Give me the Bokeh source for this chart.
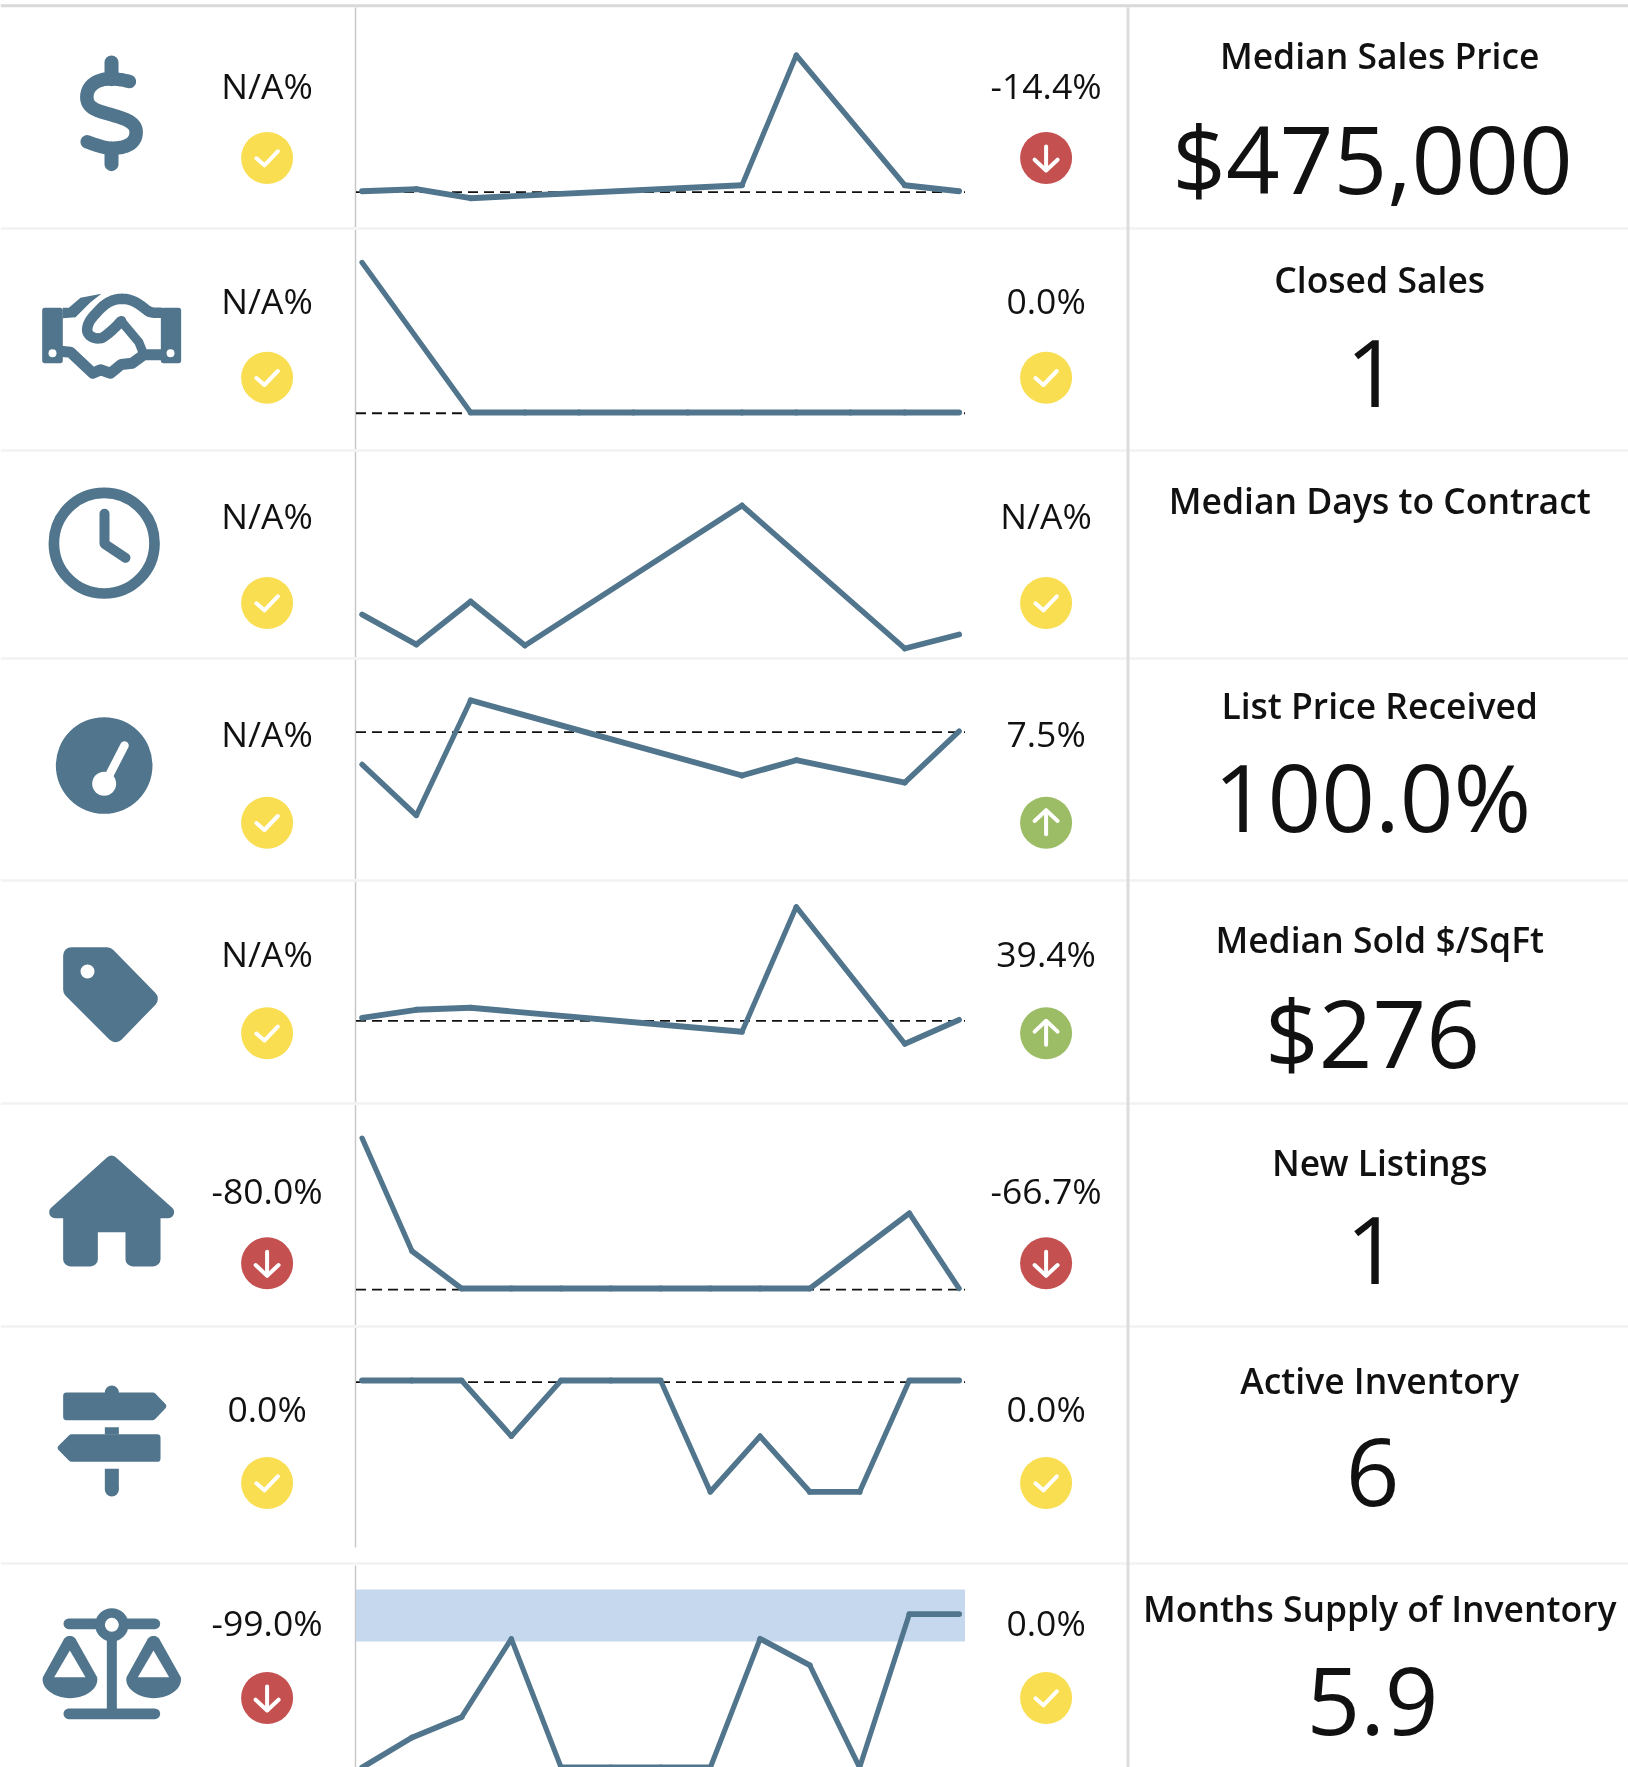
from bokeh.plotting import figure
from bokeh.models import Range1d, ColumnDataSource
from bokeh.core.properties import value
from bokeh.embed import file_html
from bokeh.resources import INLINE
import math

# ---------- data ----------
titles = ["Median Sales Price", "Closed Sales", "Median Days to Contract", "List Price Received",
          "Median Sold $/SqFt", "New Listings", "Active Inventory", "Months Supply of Inventory"]
current = ["$475,000", "1", "", "100.0%", "$276", "1", "6", "5.9"]
left_pct = ["N/A%", "N/A%", "N/A%", "N/A%", "N/A%", "-80.0%", "0.0%", "-99.0%"]
right_pct = ["-14.4%", "0.0%", "N/A%", "7.5%", "39.4%", "-66.7%", "0.0%", "0.0%"]
left_state = ["flat", "flat", "flat", "flat", "flat", "down", "flat", "down"]
right_state = ["down", "flat", "flat", "up", "up", "down", "flat", "flat"]

price_m = [0, 1, 2, 7, 8, 10, 11]
price_v = [475, 485, 440, 505, 1155, 505, 475]          # $ thousands
closed_m = [0, 2, 3, 4, 5, 6, 7, 8, 9, 10, 11]
closed_v = [2, 1, 1, 1, 1, 1, 1, 1, 1, 1, 1]
days_m = [0, 1, 2, 3, 7, 10, 11]
days_v = [33, 18, 39.5, 17.5, 87.5, 16, 23]
lpr_m = [0, 1, 2, 7, 8, 10, 11]
lpr_v = [93.0, 82.3, 106.5, 90.7, 93.9, 89.2, 100.0]
sqft_m = [0, 1, 2, 7, 8, 10, 11]
sqft_v = [278, 286, 288, 264, 389, 252, 276]
new_m = [0, 1, 2, 3, 4, 5, 6, 7, 8, 9, 11, 12]
new_v = [5, 2, 1, 1, 1, 1, 1, 1, 1, 1, 3, 1]
active_m = list(range(13))
active_v = [6, 6, 6, 5, 6, 6, 6, 4, 5, 4, 4, 6, 6]
supply_m = list(range(13))
supply_v = [0, 1.15, 1.94, 4.95, 0, 0, 0, 0, 4.95, 3.93, 0, 5.9, 5.9]
supply_band = (4.85, 6.85)

series_m = [price_m, closed_m, days_m, lpr_m, sqft_m, new_m, active_m, supply_m]
series_v = [price_v, closed_v, days_v, lpr_v, sqft_v, new_v, active_v, supply_v]
n_periods = [12, 12, 12, 12, 12, 13, 13, 13]
dashed_at = [470, 0.995, None, 99.8, 275, 0.97, 5.97, None]

# ---------- layout (pixels) ----------
W, H = 1628, 1767
BLUE = "#50758c"
STATE_COL = {"flat": "#f9de52", "down": "#c45050", "up": "#9cbd65"}
SEP_Y = [228, 450, 658, 880, 1103, 1326, 1563]
VLEFT = [(7, 226.5), (229.5, 448.5), (451.5, 656.5), (659.5, 878.5), (881.5, 1101.5),
         (1104.5, 1324.5), (1327.5, 1547), (1565, 1767)]
TITLE_Y = [68.3, 291.7, 513.3, 718.3, 951.7, 1175, 1393.3, 1621]
VALUE_Y = [193.5, 409, 0, 831.7, 1067, 1285.7, 1507.5, 1736.5]
PCT_Y = [97.8, 312.8, 527.7, 745.7, 965.7, 1202.8, 1420.7, 1634.7]
CIRC_Y = [157.5, 377.2, 602.5, 822.2, 1032.8, 1262.8, 1482.5, 1697.5]
LX, RX, CR = 266.6, 1045.6, 26
TITLE_X, VALUE_X = 1379.2, 1372
SPARK_L, SPARK_R = 355.5, 964.5
FIRST_X, LAST_X = 361.6, 958.6
SMALL, BIG = 35.5, 94
BASE_SHIFT = 0.38   # the svg text sits this many em below the requested alphabetic line
# pixel anchor of each sparkline's y scale: (value, pixel, pixels per unit)
Y_SCALE = [(475, 190.7, 0.2), (1, 412, 150), (0, 680, 2), (100, 730.7, 4.76),
           (276, 1019.3, 1), (1, 1288, 37.6), (6, 1380, 55.7), (0, 1767, 26)]

p = figure(width=W, height=H, x_range=Range1d(0, W), y_range=Range1d(H, 0),
           output_backend="svg", toolbar_location=None, min_border=0,
           x_axis_location=None, y_axis_location=None, outline_line_color=None,
           background_fill_color="white", border_fill_color="white",
           styles={"position": "fixed", "left": "0px", "top": "0px"})
p.grid.visible = False

# ---------- rules ----------
p.line([0, W], [5.3, 5.3], line_color="#d9d9d9", line_width=3)
for y in SEP_Y:
    p.line([0, W], [y, y], line_color="#f2f2f2", line_width=2.6)
for a, b in VLEFT:
    p.line([355, 355], [a, b], line_color="#c8c8c8", line_width=1.5)
p.line([1127.5, 1127.5], [6.7, H], line_color="#dcdcdc", line_width=3)

# ---------- sparklines ----------
WA, WB = 5.0, 5.9
for i, (ms, vs) in enumerate(zip(series_m, series_v)):
    step = (LAST_X - FIRST_X) / (n_periods[i] - 1)
    v0, y0, s = Y_SCALE[i]
    xn, yn = f"mx{i}", f"vy{i}"
    p.extra_x_ranges[xn] = Range1d((0 - FIRST_X) / step, (W - FIRST_X) / step)
    p.extra_y_ranges[yn] = Range1d(v0 - (H - y0) / s, v0 + y0 / s)
    if i == 7:
        p.quad(left=SPARK_L, right=SPARK_R, bottom=supply_band[0], top=supply_band[1],
               fill_color="#c5d8ee", line_color=None, y_range_name=yn)
    if dashed_at[i] is not None:
        p.line([SPARK_L, SPARK_R], [dashed_at[i]] * 2, line_color="#111111", line_width=1.8,
               line_dash="10 6", y_range_name=yn)
    xs, ys, ws = [], [], []
    for a in range(len(ms) - 1):
        dx = (ms[a + 1] - ms[a]) * step
        dy = (vs[a + 1] - vs[a]) * s
        L = math.hypot(dx, dy)
        xs.append(ms[a:a + 2]); ys.append(vs[a:a + 2])
        ws.append(math.hypot(WA * dy, WB * dx) / L)
    src = ColumnDataSource(dict(xs=xs, ys=ys, w=ws))
    p.multi_line("xs", "ys", source=src, line_width="w", line_color=BLUE, line_cap="round",
                 line_join="round", x_range_name=xn, y_range_name=yn)

# ---------- status badges ----------
def badge(cx, cy, state):
    p.circle([cx], [cy], radius=CR, fill_color=STATE_COL[state], line_color=None)
    kw = dict(line_color="white", line_cap="round", line_join="round")
    if state == "flat":
        p.line([cx - 10.7, cx - 2.7, cx + 10.7], [cy + 0.3, cy + 7.3, cy - 6.7], line_width=4, **kw)
    else:
        sg = 1 if state == "down" else -1
        p.line([cx, cx], [cy - sg * 11.5, cy + sg * 12], line_width=4, **kw)
        p.line([cx - 11.5, cx, cx + 11.5], [cy + sg * 1.7, cy + sg * 12.5, cy + sg * 1.7], line_width=4, **kw)

for i in range(8):
    badge(LX, CIRC_Y[i], left_state[i])
    badge(RX, CIRC_Y[i], right_state[i])

# ---------- texts ----------
FONT = value("Open Sans")
small_y = [y - BASE_SHIFT * SMALL for y in PCT_Y]
title_y = [y - BASE_SHIFT * SMALL for y in TITLE_Y]
p.text([LX] * 8, small_y, text=left_pct, text_font=FONT, text_font_size=f"{SMALL}px", text_align="center",
       text_baseline="alphabetic", text_color="#111111")
p.text([RX] * 8, small_y, text=right_pct, text_font=FONT, text_font_size=f"{SMALL}px", text_align="center",
       text_baseline="alphabetic", text_color="#111111")
p.text([TITLE_X] * 8, title_y, text=titles, text_font=value("Open Sans SemiBold"), text_font_size=f"{SMALL}px",
       text_align="center", text_baseline="alphabetic", text_color="#111111")
idx = [i for i in range(8) if current[i]]
p.text([VALUE_X] * len(idx), [VALUE_Y[i] - BASE_SHIFT * BIG for i in idx], text=[current[i] for i in idx],
       text_font=FONT, text_font_size=f"{BIG}px", text_align="center", text_baseline="alphabetic",
       text_color="#111111")

# ---------- icons (outline points measured in 3x crops) ----------
def Z(pts, oy=0, ox=0):
    return [q[0] / 3 + ox for q in pts], [q[1] / 3 + oy for q in pts]

def stroke(pts, w, oy=0, color=BLUE, ox=0):
    xs, ys = Z(pts, oy, ox)
    p.line(xs, ys, line_color=color, line_width=w, line_cap="round", line_join="round")

def blob(pts, w=0, oy=0, color=BLUE, ox=0):
    xs, ys = Z(pts, oy, ox)
    p.patch(xs, ys, fill_color=color, line_color=color if w else None, line_width=w or 1, line_join="round")

def dot(cx, cy, r, oy=0, color="white"):
    p.circle([cx / 3], [cy / 3 + oy], radius=r / 3, fill_color=color, line_color=None)

def bez(*ctrl):
    out = []
    for k in range(0, len(ctrl) - 1, 3):
        a, b, c, d = ctrl[k:k + 4]
        for t in [j / 14 for j in range(15)]:
            u = 1 - t
            out.append((u**3 * a[0] + 3 * u * u * t * b[0] + 3 * u * t * t * c[0] + t**3 * d[0],
                        u**3 * a[1] + 3 * u * u * t * b[1] + 3 * u * t * t * c[1] + t**3 * d[1]))
    return out

# dollar
stroke([(333, 186), (333, 236)], 14)
stroke([(333, 445), (333, 491)], 14)
stroke(bez((387, 243), (365, 238), (350, 235), (330, 235), (290, 235), (259, 255), (259, 290),
           (259, 325), (295, 332), (333, 343), (375, 355), (407, 365), (407, 395),
           (407, 430), (375, 443), (335, 443), (310, 443), (285, 433), (260, 424)), 13.5)

# handshake
blob([(133, 930), (179, 930), (179, 1080), (133, 1080)], 5.3)
blob([(489, 930), (534, 930), (534, 1080), (489, 1080)], 5.3)
dot(156, 1058, 12); dot(510, 1058, 12)
blob([(187, 922), (205, 922), (240, 892), (303, 880), (270, 905), (225, 950), (187, 953)])
stroke(bez((481, 937), (460, 937), (450, 937), (440, 930), (410, 905), (390, 895), (365, 895),
           (340, 895), (315, 905), (290, 935), (270, 955), (260, 970), (260, 990),
           (262, 1008), (285, 1018), (305, 1012), (325, 1000), (345, 980), (362, 962)), 10.5)
stroke([(362, 962), (415, 1025), (425, 1050)], 9)
stroke([(187, 1053), (210, 1055), (277, 1118), (300, 1108), (330, 1118), (362, 1092),
        (395, 1088), (430, 1063), (481, 1063)], 11)

# clock
p.circle([103.7], [542.7], radius=50.3, fill_color=None, line_color=BLUE, line_width=10.7)
stroke([(312, 190), (312, 280), (375, 322)], 10, 450)

# gauge
dot(311, 945, 145, 450, BLUE)
dot(311, 1000, 36, 450)
stroke([(318, 990), (372, 885)], 8.5, 450, "white")

# tag
blob([(213, 165), (320, 165), (447, 295), (345, 400), (213, 268)], 16.7, 900)
dot(261, 213, 21, 900)

# house
blob([(333, 783), (503, 935), (164, 935)], 12, 900)
blob([(210, 940), (458, 940), (458, 1076), (397, 1076), (397, 973), (270, 973), (270, 1076), (210, 1076)], 14.7, 900)

# signpost
dot(334, 186, 21, 1330, BLUE)
blob([(198, 196), (457, 196), (487, 227), (457, 259), (198, 259)], 6.7, 1330)
blob([(182, 352), (213, 321), (470, 321), (470, 384), (213, 384)], 6.7, 1330)
p.quad(left=313 / 3, right=355 / 3, top=1330 + 290 / 3, bottom=1330 + 312 / 3, fill_color=BLUE, line_color=None)
p.quad(left=313 / 3, right=355 / 3, top=1330 + 415 / 3, bottom=1330 + 477 / 3, fill_color=BLUE, line_color=None)
dot(334, 477, 21, 1330, BLUE)

# scale
stroke([(205, 880), (463, 880)], 10.7, 1330)
stroke([(205, 1150), (463, 1150)], 10.7, 1330)
p.quad(left=319 / 3, right=349 / 3, top=1330 + 883 / 3, bottom=1330 + 1150 / 3, fill_color=BLUE, line_color=None)
dot(334, 883, 50, 1330, BLUE)
dot(334, 883, 21, 1330)
for off in (0, 251):
    outline = [(188, 930)] + bez((188, 930), (195, 912), (221, 912), (228, 930)) + [(290, 1040)] + \
        bez((290, 1040), (296, 1075), (255, 1103), (208, 1103), (165, 1103), (120, 1075), (127, 1040))
    blob(outline, 0, 1330, BLUE, off / 3)
    blob([(208, 960), (161, 1040), (255, 1040)], 0, 1330, "white", off / 3)

open("out.html", "w").write(file_html(p, INLINE))
